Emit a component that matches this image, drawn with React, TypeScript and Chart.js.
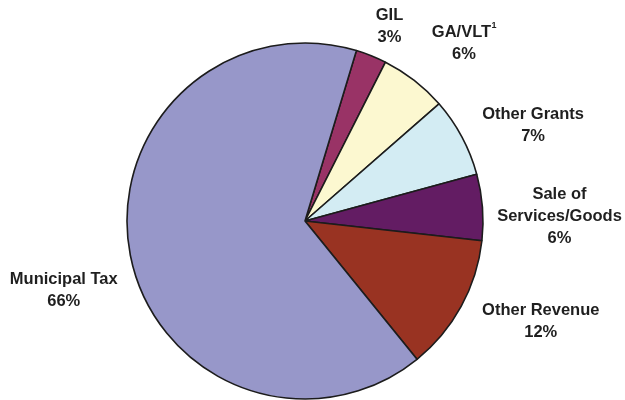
import React, { useEffect, useRef } from "react";
import { Chart, registerables } from "chart.js";

Chart.register(...registerables);

const categories = ["GIL", "GA/VLT", "Other Grants", "Sale of Services/Goods", "Other Revenue", "Municipal Tax"];
const shares = [2.8, 6.1, 7.2, 6.0, 12.4, 65.5];
const percentLabels = ["3%", "6%", "7%", "6%", "12%", "66%"];
const labelLines = [["GIL"], ["GA/VLT"], ["Other Grants"], ["Sale of", "Services/Goods"], ["Other Revenue"], ["Municipal Tax"]];
const superscripts = ["", "1", "", "", "", ""];
const colors = ["#993366", "#FCF8D0", "#D3ECF3", "#631C63", "#993322", "#9797C9"];
// label placement: [angle clockwise from top in degrees, distance in radius units]
const labelPlacement: [number, number][] = [
  [23.5, 1.19],
  [41.8, 1.34],
  [67.2, 1.39],
  [88.9, 1.43],
  [113.1, 1.44],
  [254, 1.41],
];

const FONT = "bold 16.5px 'Liberation Sans', Arial, sans-serif";
const SUP_FONT = "bold 9px 'Liberation Sans', Arial, sans-serif";

const labelPlugin = {
  id: "outsideLabels",
  afterDraw(chart: any) {
    const meta = chart.getDatasetMeta(0);
    const ctx = chart.ctx;
    const arc0 = meta.data[0];
    if (!arc0) return;
    const cx = arc0.x;
    const cy = arc0.y;
    const r = arc0.outerRadius;
    const lineH = 22;
    ctx.save();
    ctx.fillStyle = "#1f1f1f";
    ctx.textBaseline = "middle";
    meta.data.forEach((_a: any, i: number) => {
      const [ang, k] = labelPlacement[i];
      const t = (ang * Math.PI) / 180;
      const x = cx + Math.sin(t) * r * k;
      const y = cy - Math.cos(t) * r * k;
      const lines = [...labelLines[i], percentLabels[i]];
      const total = (lines.length - 1) * lineH;
      lines.forEach((ln, j) => {
        const ly = y - total / 2 + j * lineH;
        ctx.font = FONT;
        const sup = j === 0 ? superscripts[i] : "";
        if (sup) {
          const w1 = ctx.measureText(ln).width;
          ctx.font = SUP_FONT;
          const w2 = ctx.measureText(sup).width;
          const start = x - (w1 + w2) / 2;
          ctx.textAlign = "left";
          ctx.font = FONT;
          ctx.fillText(ln, start, ly);
          ctx.font = SUP_FONT;
          ctx.fillText(sup, start + w1 + 0.5, ly - 7);
        } else {
          ctx.textAlign = "center";
          ctx.fillText(ln, x, ly);
        }
      });
    });
    ctx.restore();
  },
};

export default function App() {
  const ref = useRef<HTMLCanvasElement>(null);
  useEffect(() => {
    if (!ref.current) return;
    const chart = new Chart(ref.current, {
      type: "pie",
      data: {
        labels: categories,
        datasets: [
          {
            data: shares,
            backgroundColor: colors,
            borderColor: "#1c1c1c",
            borderWidth: 1.6,
            radius: 178,
          } as any,
        ],
      },
      options: {
        responsive: false,
        animation: false,
        rotation: 16.8,
        layout: { padding: { top: 42, bottom: 0, left: 0, right: 15 } },
        plugins: { legend: { display: false }, tooltip: { enabled: false } },
      },
      plugins: [labelPlugin],
    });
    return () => chart.destroy();
  }, []);
  return (
    <div style={{ position: "fixed", left: 0, top: 0, width: 625, height: 400, background: "#fff" }}>
      <canvas ref={ref} width={625} height={400} />
    </div>
  );
}
